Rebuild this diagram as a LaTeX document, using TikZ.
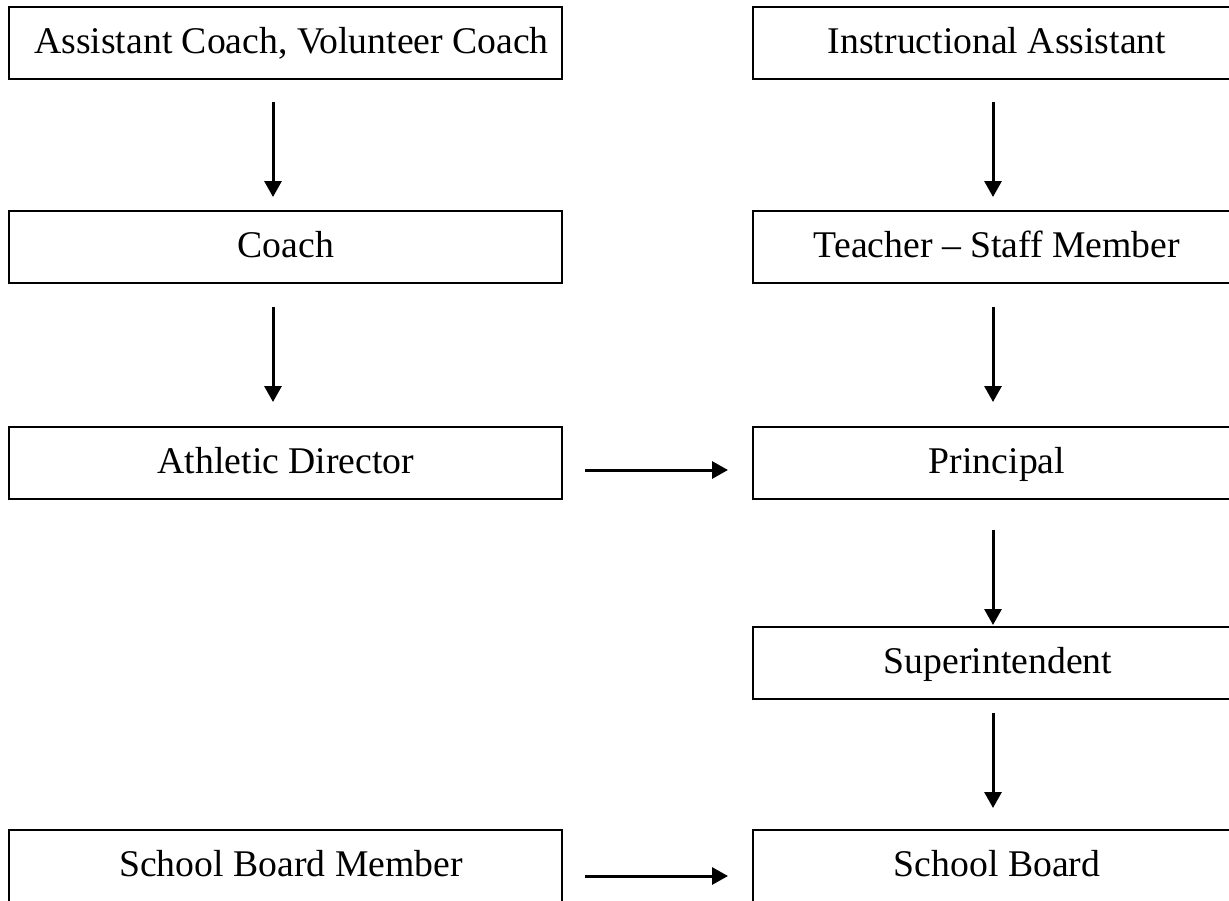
\documentclass[tikz,border=0pt]{standalone}
\usepackage{fontspec}
\setmainfont{Liberation Serif}
\usetikzlibrary{arrows.meta}
\begin{document}
\begin{tikzpicture}[x=1pt,y=-1pt,
  box/.style={draw,line width=1.6pt,minimum height=72pt,anchor=north west,inner sep=0pt,outer sep=0pt},
  lbox/.style={box,minimum width=553pt},
  rbox/.style={box,minimum width=487pt},
  lbl/.style={anchor=base,inner sep=0pt,font=\fontsize{37.7}{44}\selectfont},
  arr/.style={line width=3pt,-{Triangle[length=16pt,width=17pt]}}]
\useasboundingbox (0,0) rectangle (1229,900);
\clip (0,0) rectangle (1229,900);
% left column boxes
\node[lbox] (l1) at (9,7) {};
\node[lbox] (l2) at (9,211) {};
\node[lbox] (l3) at (9,427) {};
\node[lbox,minimum height=90pt] (l4) at (9,830) {};
% right column boxes
\node[rbox] (r1) at (753,7) {};
\node[rbox] (r2) at (753,211) {};
\node[rbox] (r3) at (753,427) {};
\node[rbox] (r4) at (753,627) {};
\node[rbox,minimum height=90pt] (r5) at (753,830) {};
% labels
\node[lbl] (t1) at (291.5,53) {Assistant Coach, Volunteer Coach};
\node[lbl] (t2) at (286,257) {Coach};
\node[lbl] (t3) at (286,473) {Athletic Director};
\node[lbl] (t4) at (291,876) {School Board Member};
\node[lbl] (u1) at (997,53) {Instructional Assistant};
\node[lbl] (u2) at (997,257) {Teacher \textendash{} Staff Member};
\node[lbl] (u3) at (997,473) {Principal};
\node[lbl] (u4) at (998,673) {Superintendent};
\node[lbl] (u5) at (997,876) {School Board};
% vertical connectors, left
\draw[arr] ([xshift=-12.5pt,yshift=-23pt]l1.south) -- ([xshift=-12.5pt,yshift=14pt]l2.north);
\draw[arr] ([xshift=-12.5pt,yshift=-24pt]l2.south) -- ([xshift=-12.5pt,yshift=25pt]l3.north);
% vertical connectors, right
\draw[arr] ([xshift=-3.5pt,yshift=-23pt]r1.south) -- ([xshift=-3.5pt,yshift=14pt]r2.north);
\draw[arr] ([xshift=-3.5pt,yshift=-24pt]r2.south) -- ([xshift=-3.5pt,yshift=25pt]r3.north);
\draw[arr] ([xshift=-3.5pt,yshift=-31pt]r3.south) -- ([xshift=-3.5pt,yshift=2pt]r4.north);
\draw[arr] ([xshift=-3.5pt,yshift=-14pt]r4.south) -- ([xshift=-3.5pt,yshift=22pt]r5.north);
% horizontal connectors
\draw[arr] ([xshift=23pt,yshift=-7pt]l3.east) -- ([xshift=-25pt,yshift=-7pt]r3.west);
\draw[arr] ([xshift=23pt]l4.north east |- 0,876) -- ([xshift=-25pt]r5.north west |- 0,876);
\end{tikzpicture}
\end{document}
